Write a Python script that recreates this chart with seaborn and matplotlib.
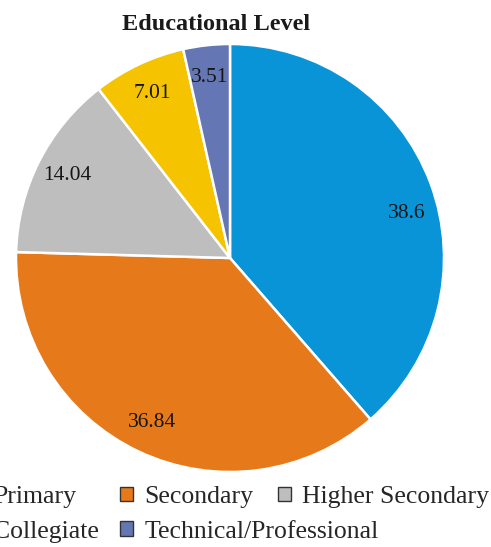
import matplotlib
matplotlib.use("Agg")
import matplotlib.pyplot as plt
from matplotlib.patches import Patch
import numpy as np
import seaborn as sns

# data
categories = ["Primary", "Secondary", "Higher Secondary", "Collegiate", "Technical/Professional"]
values = [38.6, 36.84, 14.04, 7.01, 3.51]
colors = ["#0A94D8", "#E67A1B", "#BEBEBE", "#F5C300", "#6576B4"]

sns.set_style("white")
plt.rcParams['font.family'] = ['Liberation Serif', 'DejaVu Serif']

fig = plt.figure(figsize=(4.91, 5.47), dpi=100)
# pie centre ~(230, 258) px, radius ~214 px
ax = fig.add_axes([16 / 491, 75 / 547, 428 / 491, 428 / 547])

value_labels = iter(f"{v:g}" for v in values)
wedges, texts, autotexts = ax.pie(
    values,
    colors=sns.color_palette(colors),
    startangle=90,
    counterclock=False,
    autopct=lambda pct: next(value_labels),
    pctdistance=0.85,
    wedgeprops=dict(edgecolor="white", linewidth=1.8),
    textprops=dict(fontsize=15.5, color="#151515"),
)
ax.set_xlim(-1, 1)
ax.set_ylim(-1, 1)
ax.set_aspect("equal")

# excel "best fit" puts the first label a bit below the wedge bisector
w = wedges[0]
ang = np.deg2rad(w.theta1 + 0.455 * (w.theta2 - w.theta1))
autotexts[0].set_position((0.85 * np.cos(ang), 0.85 * np.sin(ang)))

fig.text(216 / 491, 1 - 30 / 547, "Educational Level", ha="center", va="baseline",
         fontsize=17.5, fontweight="bold", color="#1a1a1a")

# legend laid out like the Excel one: three columns, second row overflowing
handles = [Patch(facecolor=c, edgecolor="#333333", linewidth=1) for c in colors]
columns = [([0, 3], -31), ([1, 4], 120), ([2], 278)]
for idx, x0 in columns:
    fig.legend([handles[i] for i in idx], [categories[i] for i in idx],
               loc="upper left", bbox_to_anchor=(x0 / 491, 1 - 486 / 547),
               frameon=False, fontsize=18.5, borderpad=0, borderaxespad=0,
               handlelength=0.5, handleheight=0.5, handletextpad=0.45,
               labelspacing=0.5)

fig.savefig("out.png", dpi=100)
